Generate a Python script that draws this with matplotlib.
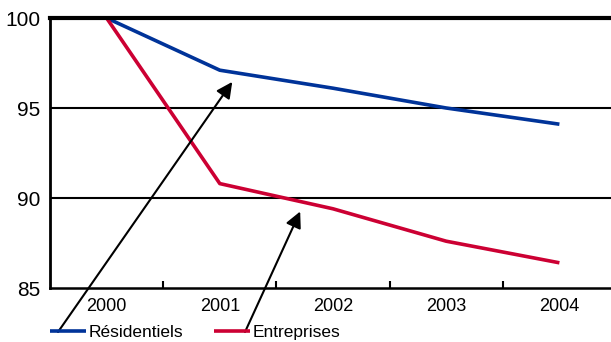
import matplotlib
matplotlib.use("Agg")
import matplotlib.pyplot as plt
from matplotlib import font_manager

years = ["2000", "2001", "2002", "2003", "2004"]
residentiels = [100.0, 97.1, 96.1, 95.0, 94.1]
entreprises = [100.0, 90.8, 89.4, 87.6, 86.4]
yticks = [85, 90, 95, 100]
legend_labels = ["Résidentiels", "Entreprises"]

names = {f.name for f in font_manager.fontManager.ttflist}
fam = "Liberation Sans Narrow" if "Liberation Sans Narrow" in names else "Liberation Sans"
plt.rcParams["font.family"] = [fam, "DejaVu Sans"]

W, H = 611, 342
fig = plt.figure(figsize=(W / 100, H / 100), dpi=100)
ax = fig.add_axes([50 / W, 1 - 288 / H, 566 / W, 270 / H])

x = list(range(len(years)))
blue = "#003399"
red = "#CC0033"
l1, = ax.plot(x, residentiels, color=blue, lw=2.6, solid_capstyle="butt")
l2, = ax.plot(x, entreprises, color=red, lw=2.6, solid_capstyle="butt")

ax.set_xlim(-0.5, 4.5)
ax.set_ylim(85, 100)
ax.set_yticks(yticks)
ax.set_yticklabels([str(v) for v in yticks], fontsize=15)
ax.set_xticks(x)
ax.set_xticklabels(years, fontsize=13)
ax.set_xticks([0.5, 1.5, 2.5, 3.5], minor=True)
ax.tick_params(axis="x", which="major", length=0, pad=7)
ax.tick_params(axis="x", which="minor", direction="in", length=5, width=1.5)
ax.tick_params(axis="y", length=0, pad=7)

for v in [90, 95]:
    ax.axhline(v, color="black", lw=1.5, zorder=1)

ax.spines["top"].set_linewidth(3)
ax.spines["left"].set_linewidth(2)
ax.spines["bottom"].set_linewidth(1.8)
ax.spines["right"].set_visible(False)
ax.spines["top"].set_clip_on(False)

leg = fig.legend([l1, l2], legend_labels, loc="lower left",
                 bbox_to_anchor=(48 / W, 0.0), ncol=2, frameon=False,
                 fontsize=12.5, handlelength=2.1, handletextpad=0.15,
                 columnspacing=1.75, borderaxespad=0, borderpad=0.1)

# arrows from legend to lines
ax.annotate("", xy=(1.11, 96.45), xycoords="data",
            xytext=(58 / W, 1 - 332 / H), textcoords="figure fraction",
            arrowprops=dict(arrowstyle="-|>", color="black", lw=1.5,
                            mutation_scale=24, shrinkA=0, shrinkB=0),
            annotation_clip=False)
ax.annotate("", xy=(1.71, 89.25), xycoords="data",
            xytext=(245 / W, 1 - 332 / H), textcoords="figure fraction",
            arrowprops=dict(arrowstyle="-|>", color="black", lw=1.5,
                            mutation_scale=24, shrinkA=0, shrinkB=0),
            annotation_clip=False)

fig.savefig("out.png", dpi=100)
